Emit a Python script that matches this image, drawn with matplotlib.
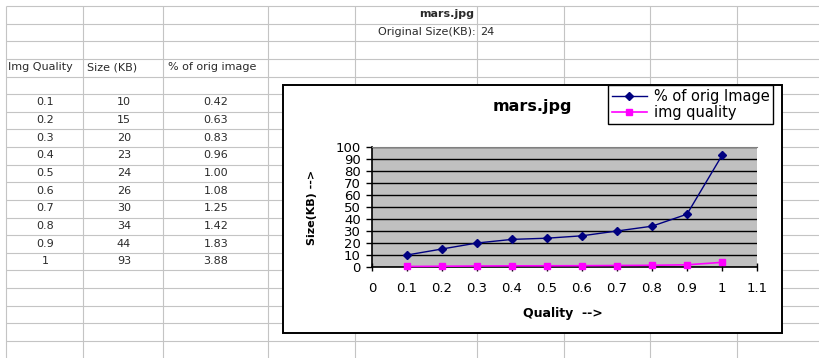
import numpy as np
from matplotlib import pyplot as plt
from matplotlib.patches import Rectangle

# table / chart data
quality = [0.1, 0.2, 0.3, 0.4, 0.5, 0.6, 0.7, 0.8, 0.9, 1]
size_kb = [10, 15, 20, 23, 24, 26, 30, 34, 44, 93]
pct_orig = [0.42, 0.63, 0.83, 0.96, 1.00, 1.08, 1.25, 1.42, 1.83, 3.88]
headers = ["Img Quality", "Size (KB)", "% of orig image"]
x_ticks = [0, 0.1, 0.2, 0.3, 0.4, 0.5, 0.6, 0.7, 0.8, 0.9, 1, 1.1]
y_ticks = [0, 10, 20, 30, 40, 50, 60, 70, 80, 90, 100]
file_name = "mars.jpg"
orig_size = 24

W, H = 819, 358
fig = plt.figure(figsize=(W / 100, H / 100), dpi=100)
plt.rcParams['font.family'] = ['DejaVu Sans']

# spreadsheet background, pixel coords
bg = fig.add_axes([0, 0, 1, 1])
bg.set_xlim(0, W)
bg.set_ylim(H, 0)
bg.axis('off')

col_lines = [6, 83, 163, 268, 355, 477, 564, 650, 737]
row_lines = np.linspace(6, 341, 20)
bg.vlines(col_lines, 6, H, color='#c4c4c4', lw=0.8, zorder=1)
bg.hlines(row_lines, 6, W, color='#c4c4c4', lw=0.8, zorder=1)

def row_mid(i):
    return (row_lines[i] + row_lines[i + 1]) / 2 - 0.5

tc = '#2a2a2a'
fs = 8
# top cells
bg.text(474, row_mid(0), file_name, ha='right', va='center', fontsize=fs, fontweight='bold', color=tc)
bg.text(476, row_mid(1), "Original Size(KB):", ha='right', va='center', fontsize=fs, color=tc)
bg.text(480, row_mid(1), str(orig_size), ha='left', va='center', fontsize=fs, color=tc)

# headers
for left, h in zip([8, 87, 168], headers):
    bg.text(left, row_mid(3), h, ha='left', va='center', fontsize=fs, color=tc)

# table values
for k in range(len(quality)):
    y = row_mid(5 + k)
    bg.text(45, y, f"{quality[k]:g}", ha='center', va='center', fontsize=fs, color=tc)
    bg.text(124, y, str(size_kb[k]), ha='center', va='center', fontsize=fs, color=tc)
    bg.text(216, y, f"{pct_orig[k]:.2f}", ha='center', va='center', fontsize=fs, color=tc)

# chart frame
bg.add_patch(Rectangle((283, 85), 499, 248, facecolor='white', edgecolor='black', lw=1.4, zorder=5))

# plot area
px_l, px_r, px_t, px_b = 372, 757, 147, 267
ax = fig.add_axes([px_l / W, 1 - px_b / H, (px_r - px_l) / W, (px_b - px_t) / H])
ax.set_facecolor('#c0c0c0')
ax.plot(quality, size_kb, color='#000080', lw=1, marker='D', ms=4.5, label='% of orig Image', clip_on=False, zorder=3)
ax.plot(quality, pct_orig, color='#ff00ff', lw=1.2, marker='s', ms=4.5, label='img quality', clip_on=False, zorder=3)

ax.set_xlim(0, 1.1)
ax.set_ylim(0, 100)
ax.set_xticks(x_ticks)
ax.set_xticklabels([f"{v:g}" for v in x_ticks])
ax.set_yticks(y_ticks)
ax.grid(axis='y', color='black', lw=1)
ax.set_axisbelow(True)
ax.spines['right'].set_visible(False)
ax.spines['top'].set_color('#808080')
ax.spines['left'].set_linewidth(1.2)
ax.spines['bottom'].set_linewidth(1.2)
ax.tick_params(axis='y', direction='out', length=4, width=1, pad=4, labelsize=9.5)
ax.tick_params(axis='x', direction='inout', length=6, width=1, pad=8, labelsize=9.5)

ax.set_xlabel('Quality  -->', fontsize=9, fontweight='bold')
ax.xaxis.set_label_coords((563 - px_l) / (px_r - px_l), (px_b - 313) / (px_b - px_t))
ax.xaxis.label.set_va('center')
ax.set_ylabel('Size(KB) -->', fontsize=8, fontweight='bold')
ax.yaxis.set_label_coords((312 - px_l) / (px_r - px_l), 0.5)
ax.yaxis.label.set_va('center')

ax.set_title(file_name, x=(532 - px_l) / (px_r - px_l), y=(px_b - 107) / (px_b - px_t),
             va='center', pad=0, fontsize=11.5, fontweight='bold')

leg = ax.legend(loc='upper left', bbox_to_anchor=(608 / W, 1 - 85 / H), bbox_transform=fig.transFigure,
                fancybox=False, framealpha=1, edgecolor='black', fontsize=10.5,
                borderpad=0.25, labelspacing=0.1, handletextpad=0.5, handlelength=2.4, borderaxespad=0)
leg.get_frame().set_linewidth(1)

fig.savefig('out.png', dpi=100)
